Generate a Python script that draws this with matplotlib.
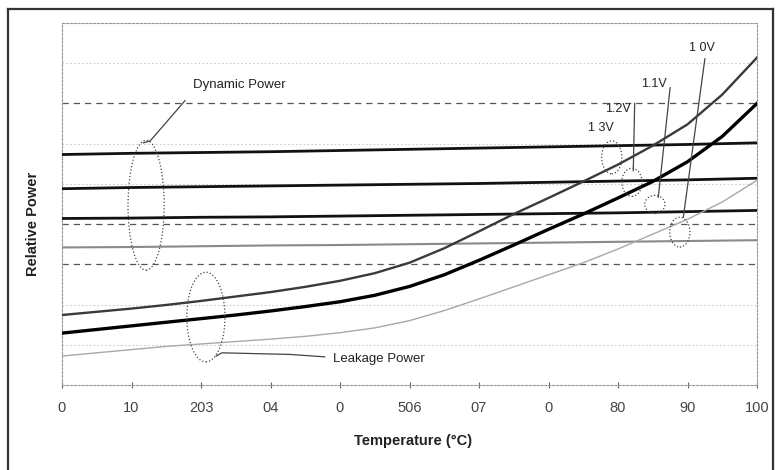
import matplotlib
matplotlib.use('agg')
import matplotlib.pyplot as plt
from matplotlib.patches import Ellipse
from matplotlib.lines import Line2D
import numpy as np

plt.rcParams['font.family'] = ['Liberation Sans', 'DejaVu Sans']

# temperature grid (deg C)
temp_dyn = [0, 10, 20, 30, 40, 50, 60, 70, 80, 90, 100]
temp_leak = [0, 5, 10, 15, 20, 25, 30, 35, 40, 45, 50,
             55, 60, 65, 70, 75, 80, 85, 90, 95, 100]
tick_labels = ['0', '10', '203', '04', '0', '506', '07', '0', '80', '90', '100']

# dynamic power (flat-ish lines, relative units)
dyn_a = [5.73, 5.76, 5.78, 5.80, 5.83, 5.86, 5.89, 5.92, 5.95, 5.98, 6.02]
dyn_b = [4.88, 4.91, 4.93, 4.95, 4.97, 4.99, 5.01, 5.04, 5.07, 5.10, 5.14]
dyn_c = [4.14, 4.15, 4.17, 4.18, 4.20, 4.22, 4.24, 4.26, 4.28, 4.31, 4.34]
dyn_d = [3.42, 3.43, 3.45, 3.47, 3.48, 3.50, 3.52, 3.54, 3.56, 3.58, 3.60]

# leakage power curves
leak_a = [1.74, 1.82, 1.90, 1.99, 2.09, 2.20, 2.31, 2.44, 2.59, 2.78, 3.04,
          3.40, 3.82, 4.25, 4.65, 5.06, 5.48, 5.95, 6.48, 7.22, 8.14]
leak_b = [1.29, 1.38, 1.47, 1.56, 1.65, 1.74, 1.84, 1.95, 2.07, 2.23, 2.45,
          2.74, 3.10, 3.48, 3.87, 4.25, 4.65, 5.06, 5.55, 6.18, 7.00]
leak_c = [0.72, 0.80, 0.88, 0.96, 1.02, 1.08, 1.14, 1.21, 1.30, 1.42, 1.60,
          1.85, 2.14, 2.44, 2.74, 3.04, 3.38, 3.75, 4.12, 4.55, 5.09]

fig = plt.figure(figsize=(7.81, 4.70), dpi=100)
ax = fig.add_axes([62/781, 85/470, 695/781, 362/470])

# grid lines
for g in [1, 2, 5, 6, 8]:
    ax.axhline(g, color='#cccccc', lw=0.8, ls=(0, (1.5, 2)), zorder=1)
for g in [3, 4, 7]:
    ax.axhline(g, color='#555555', lw=0.9, ls=(0, (5, 4)), zorder=1)

# dynamic power
ax.plot(temp_dyn, dyn_a, color='#111111', lw=2.0, zorder=3)
ax.plot(temp_dyn, dyn_b, color='#111111', lw=2.0, zorder=3)
ax.plot(temp_dyn, dyn_c, color='#111111', lw=2.0, zorder=3)
ax.plot(temp_dyn, dyn_d, color='#8a8a8a', lw=1.5, zorder=3)

# leakage power
ax.plot(temp_leak, leak_a, color='#3a3a3a', lw=1.7, zorder=4)
ax.plot(temp_leak, leak_b, color='#000000', lw=2.4, zorder=4)
ax.plot(temp_leak, leak_c, color='#a8a8a8', lw=1.0, zorder=4)

ax.set_xlim(0, 100)
ax.set_ylim(0, 9)
ax.set_xticks(temp_dyn)
ax.set_xticklabels(tick_labels, fontsize=10.5, color='#444444')
ax.set_yticks([])
ax.tick_params(axis='x', direction='inout', length=5, width=0.8, color='#666666', pad=9)
for s in ax.spines.values():
    s.set_color('#999999')
    s.set_linewidth(0.8)
    s.set_linestyle((0, (2, 1.5)))

# annotations
dot = dict(fill=False, ls=':', lw=0.9, ec='#444444', zorder=5)
ax.add_patch(Ellipse((12.1, 4.47), 5.2, 3.23, **dot))
ax.add_patch(Ellipse((20.7, 1.69), 5.5, 2.23, **dot))
ax.plot([17.7, 12.7, 11.7], [7.07, 6.07, 6.02], color='#444444', lw=0.9, zorder=5)
ax.text(18.8, 7.47, 'Dynamic Power', fontsize=9.5, color='#222222', va='center')
ax.plot([22.2, 23.0, 32.8, 37.8], [0.72, 0.80, 0.76, 0.70], color='#444444', lw=0.9, zorder=5)
ax.text(39.0, 0.64, 'Leakage Power', fontsize=9.5, color='#222222', va='center')

ax.text(92.1, 8.39, '1 0V', fontsize=9, color='#222222', ha='center', va='center')
ax.text(85.2, 7.49, '1.1V', fontsize=9, color='#222222', ha='center', va='center')
ax.text(80.0, 6.87, '1.2V', fontsize=9, color='#222222', ha='center', va='center')
ax.text(77.6, 6.38, '1 3V', fontsize=9, color='#222222', ha='center', va='center')
ax.plot([92.5, 89.4], [8.11, 4.17], color='#444444', lw=0.9, zorder=5)
ax.plot([87.5, 85.8], [7.39, 4.67], color='#444444', lw=0.9, zorder=5)
ax.plot([82.4, 82.2], [7.0, 5.33], color='#444444', lw=0.9, zorder=5)
ax.add_patch(Ellipse((88.9, 3.80), 2.9, 0.74, **dot))
ax.add_patch(Ellipse((85.3, 4.49), 2.9, 0.45, **dot))
ax.add_patch(Ellipse((82.0, 5.04), 2.9, 0.70, **dot))
ax.add_patch(Ellipse((79.1, 5.66), 2.9, 0.82, **dot))

fig.text(33/781, 1 - 224/470, 'Relative Power', rotation=90, ha='center', va='center',
         fontsize=10.5, fontweight='bold', color='#222222')
fig.text(413/781, 1 - 441/470, 'Temperature (°C)', ha='center', va='center',
         fontsize=10.5, fontweight='bold', color='#222222')

# outer frame
fx0, fx1, fy1 = 8/781, 773/781, 1 - 9/470
for xs, ys in [([fx0, fx0], [0, fy1]), ([fx0, fx1], [fy1, fy1]), ([fx1, fx1], [fy1, 0])]:
    fig.add_artist(Line2D(xs, ys, color='#333333', lw=1.6, transform=fig.transFigure))

fig.savefig('out.png', dpi=100)
